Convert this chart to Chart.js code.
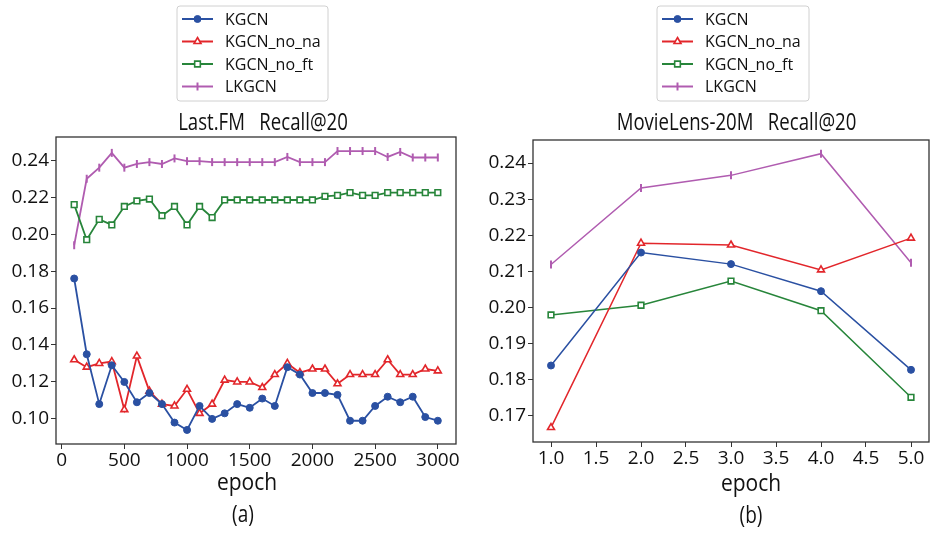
<!DOCTYPE html>
<html><head><meta charset="utf-8">
<script src="https://cdn.jsdelivr.net/npm/chart.js@4/dist/chart.umd.min.js"></script>
<style>
html,body{margin:0;padding:0;background:#fff;}
#wrap{position:relative;width:930px;height:537px;overflow:hidden;background:#fff;}
#cA{position:absolute;left:0;top:0;}
#cB{position:absolute;left:465px;top:0;}
</style></head><body>
<div id="wrap"><canvas id="cA" width="465" height="537"></canvas><canvas id="cB" width="470" height="537"></canvas></div>
<script>
const seriesNames = ['KGCN', 'KGCN_no_na', 'KGCN_no_ft', 'LKGCN'];

// Panel (a): Last.FM Recall@20
const epochsA = [100,200,300,400,500,600,700,800,900,1000,1100,1200,1300,1400,1500,1600,1700,1800,1900,2000,2100,2200,2300,2400,2500,2600,2700,2800,2900,3000];
const kgcnA   = [0.176,0.135,0.108,0.129,0.120,0.109,0.114,0.108,0.098,0.094,0.107,0.100,0.103,0.108,0.106,0.111,0.107,0.128,0.124,0.114,0.114,0.113,0.099,0.099,0.107,0.112,0.109,0.112,0.101,0.099];
const noNaA   = [0.132,0.128,0.130,0.131,0.105,0.134,0.115,0.108,0.107,0.116,0.103,0.108,0.121,0.120,0.120,0.117,0.124,0.130,0.125,0.127,0.127,0.119,0.124,0.124,0.124,0.132,0.124,0.124,0.127,0.126];
const noFtA   = [0.216,0.197,0.208,0.205,0.215,0.218,0.219,0.210,0.215,0.205,0.215,0.209,0.2185,0.2185,0.2185,0.2185,0.2185,0.2185,0.2185,0.2185,0.2205,0.221,0.2225,0.221,0.221,0.2225,0.2225,0.2225,0.2225,0.2225];
const lkgcnA  = [0.194,0.230,0.236,0.244,0.236,0.238,0.239,0.238,0.241,0.2395,0.2395,0.239,0.239,0.239,0.239,0.239,0.239,0.2418,0.239,0.239,0.239,0.245,0.245,0.245,0.245,0.2418,0.2445,0.2415,0.2415,0.2415];
const xTicksA = [0,500,1000,1500,2000,2500,3000];
const yTicksA = [0.10,0.12,0.14,0.16,0.18,0.20,0.22,0.24];

// Panel (b): MovieLens-20M Recall@20
const epochsB = [1,2,3,4,5];
const kgcnB   = [0.1839,0.2152,0.2120,0.2045,0.1827];
const noNaB   = [0.1667,0.2178,0.2173,0.2104,0.2192];
const noFtB   = [0.1979,0.2006,0.2073,0.1991,0.1751];
const lkgcnB  = [0.2119,0.2331,0.2366,0.2426,0.2124];
const xTicksB = [1.0,1.5,2.0,2.5,3.0,3.5,4.0,4.5,5.0];
const yTicksB = [0.17,0.18,0.19,0.20,0.21,0.22,0.23,0.24];

const COLORS = ['#2a50a2','#e2262b','#27853a','#b05cb0'];
const MARKERS = [
  {pointStyle:'circle',   radius:3.5, fill:'#2a50a2', rotation:0,  bw:1},
  {pointStyle:'triangle', radius:4.0, fill:'#ffffff', rotation:0,  bw:1.6},
  {pointStyle:'rect',     radius:4.0, fill:'#ffffff', rotation:0,  bw:1.6},
  {pointStyle:'line',     radius:4,   fill:'#b05cb0', rotation:90, bw:2}
];
const FONT = '"Open Sans", "DejaVu Sans", sans-serif';

function makeDatasets(xs, seriesList, lw) {
  return seriesList.map((ys, i) => ({
    label: seriesNames[i],
    data: xs.map((x, j) => ({x: x, y: ys[j]})),
    borderColor: COLORS[i],
    backgroundColor: MARKERS[i].fill,
    borderWidth: lw,
    pointStyle: MARKERS[i].pointStyle,
    pointRadius: MARKERS[i].radius,
    pointRotation: MARKERS[i].rotation,
    pointBorderWidth: MARKERS[i].bw,
    pointBorderColor: COLORS[i],
    pointBackgroundColor: MARKERS[i].fill,
    tension: 0,
    fill: false
  }));
}

const decor = {
  id: 'decor',
  afterDraw(chart, args, o) {
    const ctx = chart.ctx;
    const a = chart.chartArea;
    ctx.save();
    // spines
    ctx.strokeStyle = '#333';
    ctx.lineWidth = 1.3;
    ctx.strokeRect(a.left, a.top, a.right - a.left, a.bottom - a.top);
    // title (slightly tall font as in the reference)
    ctx.fillStyle = '#111';
    ctx.textAlign = 'center';
    ctx.textBaseline = 'alphabetic';
    ctx.font = '18.6px ' + FONT;
    ctx.save(); ctx.translate(o.titleX, o.titleY); ctx.scale(1, 1.28); ctx.fillText(o.title, 0, 0); ctx.restore();
    // x label
    ctx.font = '21px ' + FONT;
    ctx.save(); ctx.translate(o.xLabelX, o.xLabelY); ctx.scale(1, 1.12); ctx.fillText(o.xLabel, 0, 0); ctx.restore();
    // panel label
    ctx.font = '19px ' + FONT;
    ctx.save(); ctx.translate(o.panelX, o.panelY); ctx.scale(1, 1.22); ctx.fillText(o.panel, 0, 0); ctx.restore();
    // legend box
    const L = o.legend;
    ctx.beginPath();
    if (ctx.roundRect) ctx.roundRect(L.x, L.y, L.w, L.h, 3); else ctx.rect(L.x, L.y, L.w, L.h);
    ctx.fillStyle = 'rgba(255,255,255,0.9)';
    ctx.fill();
    ctx.strokeStyle = '#d0d0d0';
    ctx.lineWidth = 1;
    ctx.stroke();
    chart.data.datasets.forEach((ds, i) => {
      const y = L.y + L.row0 + i * L.rowH;
      const x0 = L.x + 5, x1 = L.x + 36;
      ctx.strokeStyle = ds.borderColor;
      ctx.lineWidth = 2;
      ctx.beginPath(); ctx.moveTo(x0, y); ctx.lineTo(x1, y); ctx.stroke();
      ctx.fillStyle = ds.pointBackgroundColor;
      ctx.strokeStyle = ds.pointBorderColor;
      ctx.lineWidth = ds.pointBorderWidth;
      Chart.helpers.drawPoint(ctx, {pointStyle: ds.pointStyle, rotation: ds.pointRotation, radius: ds.pointRadius, borderWidth: ds.pointBorderWidth}, (x0 + x1) / 2, y);
      ctx.fillStyle = '#111';
      ctx.textAlign = 'left';
      ctx.textBaseline = 'middle';
      ctx.font = '16px ' + FONT;
      ctx.fillText(ds.label, L.x + 48, y + 1);
    });
    ctx.restore();
  }
};

function axisCommon(fontSize) {
  return {
    type: 'linear',
    grid: {display: true, drawOnChartArea: false, drawTicks: true, tickLength: 5, tickColor: '#333', tickWidth: 1},
    border: {display: false},
    ticks: {color: '#111', font: {family: FONT, size: fontSize}, autoSkip: false, maxRotation: 0, padding: 2}
  };
}

function makeChart(id, xs, series, lw, lim, xTicks, yTicks, xFmt, yW, areaBottom, padRight, padTop, deco, canvasH) {
  const xs_ = axisCommon(19), ys_ = axisCommon(19);
  xs_.min = lim.xmin; xs_.max = lim.xmax;
  ys_.min = lim.ymin; ys_.max = lim.ymax;
  xs_.ticks.padding = 0;
  xs_.afterBuildTicks = s => { s.ticks = xTicks.map(v => ({value: v})); };
  ys_.afterBuildTicks = s => { s.ticks = yTicks.map(v => ({value: v})); };
  xs_.ticks.callback = v => xFmt(v);
  ys_.ticks.callback = v => Number(v).toFixed(2);
  xs_.afterFit = s => { s.height = canvasH - areaBottom; };
  ys_.afterFit = s => { s.width = yW; };
  return new Chart(document.getElementById(id), {
    type: 'line',
    data: {datasets: makeDatasets(xs, series, lw)},
    options: {
      responsive: false,
      animation: false,
      layout: {padding: {left: 0, right: padRight, top: padTop, bottom: 0}},
      plugins: {legend: {display: false}, title: {display: false}, tooltip: {enabled: false}, decor: deco},
      scales: {x: xs_, y: ys_}
    },
    plugins: [decor]
  });
}

makeChart('cA', epochsA, [kgcnA, noNaA, noFtA, lkgcnA], 1.8,
  {xmin: -45, xmax: 3145, ymin: 0.0864, ymax: 0.2526},
  xTicksA, yTicksA, v => String(v), 56, 444, 9, 137,
  {title: 'Last.FM   Recall@20', titleX: 263, titleY: 130, xLabel: 'epoch', xLabelX: 247, xLabelY: 490,
   panel: '(a)', panelX: 243, panelY: 522,
   legend: {x: 177, y: 6, w: 151, h: 95, row0: 13, rowH: 22.5}}, 537);

makeChart('cB', epochsB, [kgcnB, noNaB, noFtB, lkgcnB], 1.5,
  {xmin: 0.8, xmax: 5.2, ymin: 0.1627, ymax: 0.2464},
  xTicksB, yTicksB, v => Number(v).toFixed(1), 68, 442, 3, 140,
  {title: 'MovieLens-20M   Recall@20', titleX: 271.5, titleY: 130, xLabel: 'epoch', xLabelX: 286, xLabelY: 491,
   panel: '(b)', panelX: 286, panelY: 523,
   legend: {x: 192, y: 6, w: 152, h: 95, row0: 13, rowH: 22.5}}, 537);
</script>
</body></html>
